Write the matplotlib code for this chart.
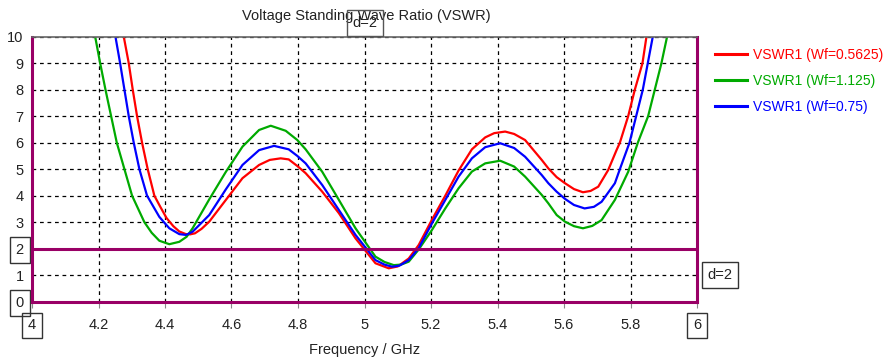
import matplotlib
matplotlib.use("Agg")
import matplotlib.pyplot as plt

plt.rcParams["font.family"] = ["Liberation Sans", "DejaVu Sans"]

# values (GHz, VSWR)
freq_red = [4.276, 4.291, 4.303, 4.316, 4.331, 4.348, 4.368, 4.385, 4.405, 4.425,
            4.443, 4.463, 4.475, 4.49, 4.51, 4.533, 4.583, 4.633, 4.683, 4.715,
            4.748, 4.772, 4.798, 4.823, 4.873, 4.923, 4.973, 5.033, 5.073, 5.10,
            5.133, 5.163, 5.203, 5.243, 5.283, 5.323, 5.363, 5.39, 5.423, 5.45,
            5.483, 5.533, 5.553, 5.578, 5.603, 5.63, 5.657, 5.68, 5.703, 5.733,
            5.758, 5.768, 5.793, 5.813, 5.836, 5.848]
vswr_red = [10, 9, 8, 7, 6, 5, 4.0, 3.6, 3.15, 2.85,
            2.65, 2.55, 2.54, 2.58, 2.75, 3.02, 3.84, 4.66, 5.16, 5.35,
            5.41, 5.37, 5.12, 4.85, 4.15, 3.34, 2.39, 1.45, 1.26, 1.33,
            1.63, 2.14, 3.1, 4.0, 4.95, 5.75, 6.2, 6.36, 6.42, 6.33,
            6.1, 5.35, 5.03, 4.7, 4.47, 4.25, 4.13, 4.18, 4.34, 4.97,
            5.72, 6.0, 7, 8, 9, 10]

freq_green = [4.19, 4.205, 4.221, 4.238, 4.255, 4.278, 4.301, 4.338, 4.36, 4.383,
              4.413, 4.443, 4.465, 4.483, 4.533, 4.583, 4.633, 4.683, 4.718, 4.763,
              4.798, 4.823, 4.873, 4.923, 4.973, 5.033, 5.06, 5.088, 5.11, 5.133,
              5.163, 5.203, 5.243, 5.283, 5.323, 5.363, 5.408, 5.45, 5.483, 5.533,
              5.553, 5.578, 5.603, 5.63, 5.657, 5.685, 5.713, 5.753, 5.793, 5.822,
              5.853, 5.873, 5.893, 5.91]
vswr_green = [10, 9, 8, 7, 6, 5, 4, 3, 2.6, 2.3,
              2.17, 2.26, 2.45, 2.77, 3.86, 4.9, 5.85, 6.48, 6.64, 6.45,
              6.1, 5.75, 4.9, 3.84, 2.77, 1.7, 1.5, 1.38, 1.4, 1.51,
              1.97, 2.71, 3.52, 4.28, 4.91, 5.22, 5.32, 5.1, 4.72, 4.03,
              3.71, 3.27, 3.02, 2.85, 2.77, 2.86, 3.08, 3.84, 4.9, 6,
              7, 8, 9, 10]

freq_blue = [4.251, 4.265, 4.278, 4.291, 4.306, 4.323, 4.346, 4.383, 4.413, 4.443,
             4.463, 4.483, 4.533, 4.583, 4.633, 4.683, 4.728, 4.772, 4.798, 4.823,
             4.873, 4.923, 4.973, 5.033, 5.06, 5.083, 5.105, 5.133, 5.163, 5.203,
             5.243, 5.283, 5.323, 5.363, 5.408, 5.45, 5.483, 5.533, 5.553, 5.578,
             5.603, 5.63, 5.662, 5.69, 5.713, 5.753, 5.768, 5.797, 5.817, 5.837,
             5.852, 5.867]
vswr_blue = [10, 9, 8, 7, 6, 5, 4, 3.2, 2.77, 2.55,
             2.52, 2.64, 3.27, 4.24, 5.16, 5.72, 5.88, 5.75, 5.5, 5.22,
             4.4, 3.46, 2.52, 1.57, 1.4, 1.32, 1.36, 1.57, 2.02, 2.96,
             3.84, 4.72, 5.41, 5.83, 5.98, 5.8, 5.47, 4.78, 4.47, 4.15,
             3.88, 3.65, 3.52, 3.58, 3.77, 4.47, 5.0, 6, 7, 8,
             9, 10]

labels = ["VSWR1 (Wf=0.5625)", "VSWR1 (Wf=1.125)", "VSWR1 (Wf=0.75)"]
colors = ["#ff0000", "#00aa00", "#0000ff"]
x_ticks = [4, 4.2, 4.4, 4.6, 4.8, 5, 5.2, 5.4, 5.6, 5.8, 6]
x_tick_labels = ["4", "4.2", "4.4", "4.6", "4.8", "5", "5.2", "5.4", "5.6", "5.8", "6"]
y_ticks = list(range(0, 11))
marker_level = 2

purple = "#990066"
W, H = 885, 363
fig = plt.figure(figsize=(W / 100, H / 100), dpi=100)
ax = fig.add_axes([32 / W, (H - 301.7) / H, (697 - 32) / W, (301.7 - 36.7) / H])

series = [(freq_red, vswr_red), (freq_green, vswr_green), (freq_blue, vswr_blue)]
for (fx, fy), lab, col in zip(series, labels, colors):
    ax.plot(fx, fy, color=col, lw=1.6, label=lab)

ax.set_xlim(4, 6)
ax.set_ylim(0, 10)
ax.set_xticks(x_ticks)
ax.set_xticklabels(x_tick_labels)
ax.set_yticks(y_ticks)
ax.grid(True, color="black", linestyle=(0, (3, 3)), lw=0.9)

ax.axhline(marker_level, color=purple, lw=2.2, zorder=5)

for side in ["left", "right", "bottom"]:
    ax.spines[side].set_color(purple)
    ax.spines[side].set_linewidth(2.2)
ax.spines["top"].set_color("#666666")
ax.spines["top"].set_linewidth(1.2)

ax.tick_params(axis="x", length=4, color="#888888", labelsize=10.5, pad=8, labelcolor="#222222")
ax.tick_params(axis="y", length=0, labelsize=10.5, pad=6, labelcolor="#222222")

box = dict(boxstyle="square,pad=0.4", fc="none", ec="#333333", lw=1)
for t in ax.get_yticklabels():
    if t.get_text() in ("0", "2"):
        t.set_bbox(box)
for t in ax.get_xticklabels():
    if t.get_text() in ("4", "6"):
        t.set_bbox(box)

fig.text(366 / W, 1 - 16 / H, "Voltage Standing Wave Ratio (VSWR)", ha="center", va="center",
         fontsize=10.5, color="#222222")
fig.text(365 / W, 1 - 23 / H, "d=2", ha="center", va="center", fontsize=10.5, color="#222222",
         bbox=dict(boxstyle="square,pad=0.4", fc="none", ec="#555555", lw=1))
fig.text(720 / W, 1 - 275 / H, "d=2", ha="center", va="center", fontsize=10.5, color="#222222",
         bbox=dict(boxstyle="square,pad=0.4", fc="white", ec="#333333", lw=1))
fig.text(365 / W, 1 - 350 / H, "Frequency / GHz", ha="center", va="center",
         fontsize=10.5, color="#222222")

leg = ax.legend(loc="upper left", bbox_to_anchor=(715 / W, 1 - 48 / H),
                bbox_transform=fig.transFigure, frameon=False, fontsize=10,
                borderaxespad=0, borderpad=0,
                handlelength=2.3, handletextpad=0.45, labelspacing=0.85,
                labelcolor="linecolor")
for line in leg.get_lines():
    line.set_linewidth(2.2)

fig.savefig("out.png", dpi=100)
